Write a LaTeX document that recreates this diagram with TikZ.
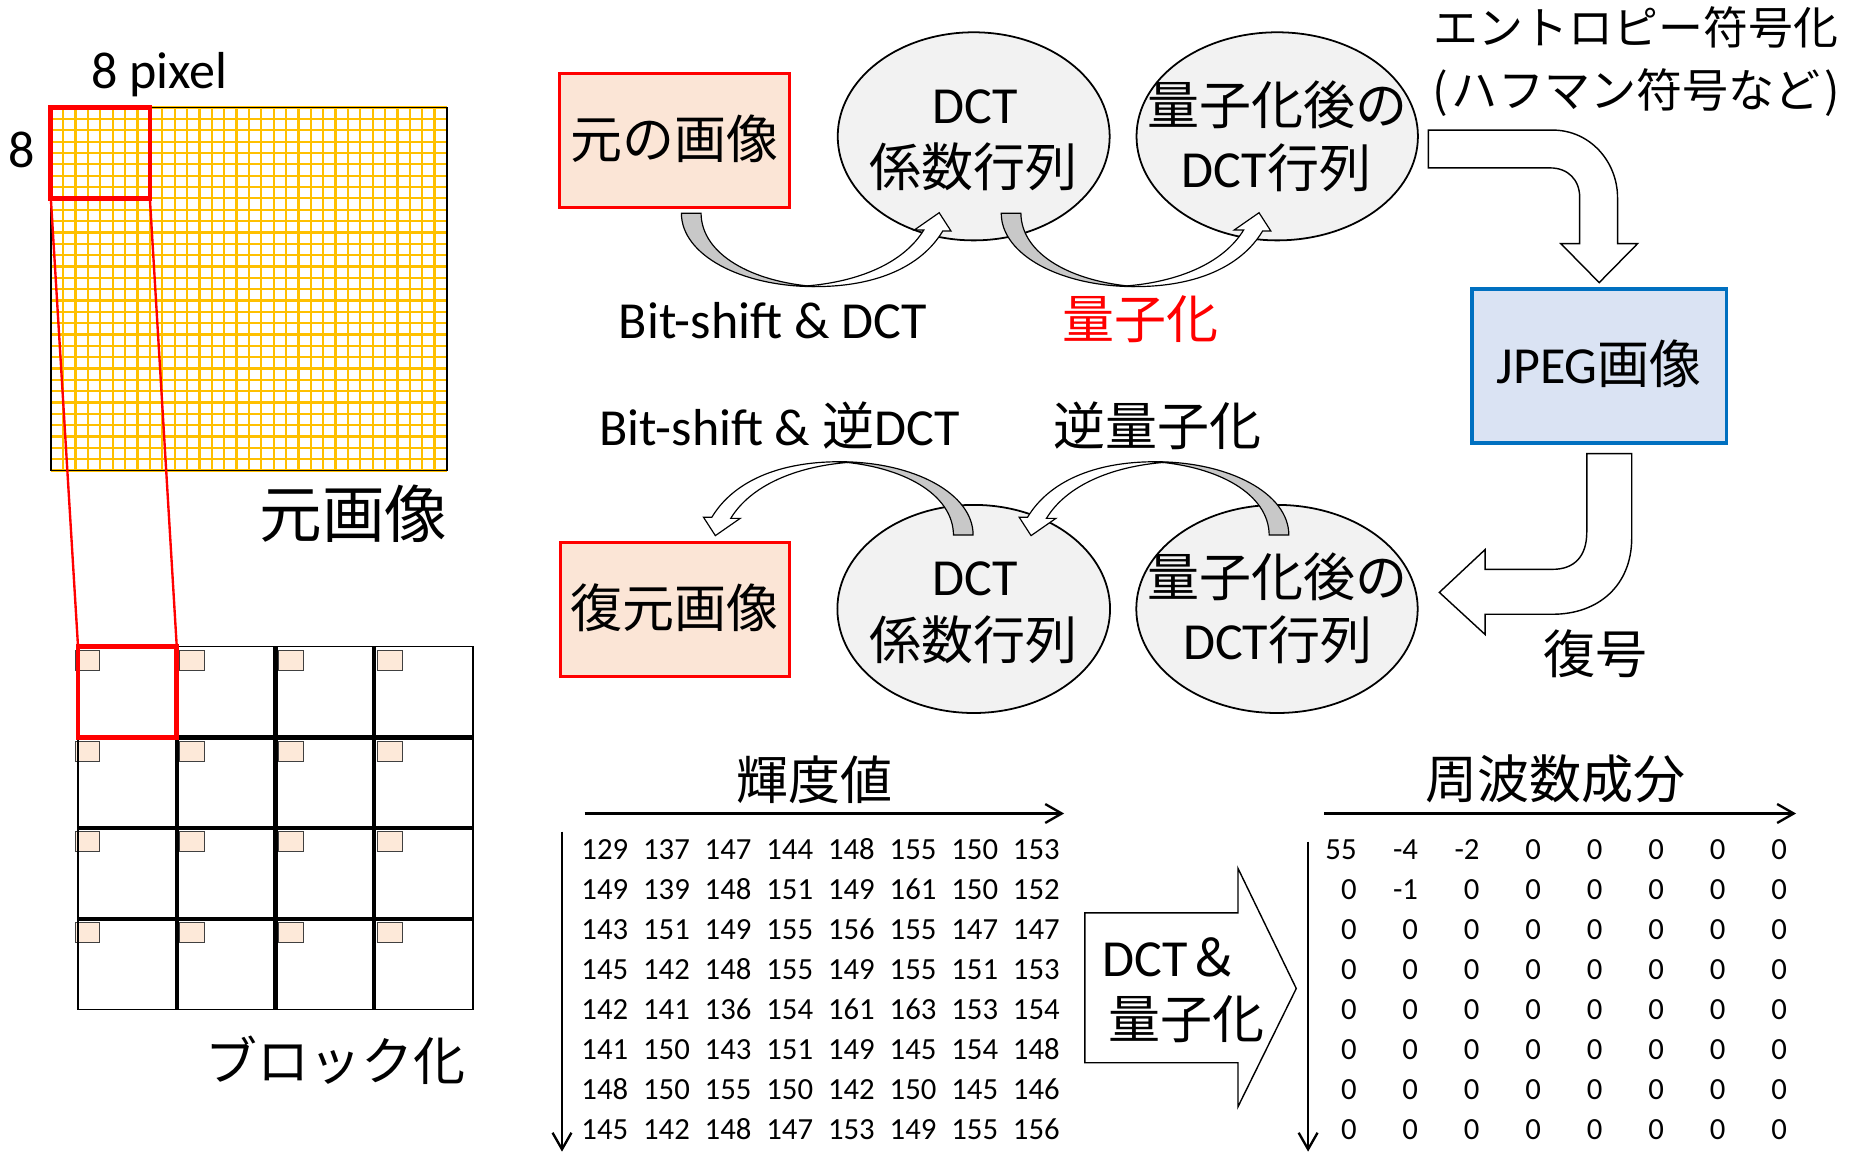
\documentclass[tikz,border=0pt]{standalone}
\usepackage{fontspec}
\setmainfont{Carlito}
\newfontfamily\jp{Noto Sans CJK JP}
\usetikzlibrary{shapes.geometric,arrows.meta}
\definecolor{peach}{HTML}{FBE5D6}
\definecolor{lblue}{HTML}{DAE3F3}
\definecolor{dblue}{HTML}{0070C0}
\definecolor{egray}{HTML}{F2F2F2}
\definecolor{agray}{HTML}{C8C8C8}
\definecolor{gridor}{HTML}{FFC000}
\definecolor{sqpeach}{HTML}{FDE9D9}
\tikzset{
  L44/.style={font=\fontsize{44}{52}\selectfont, inner sep=0pt, text height=37pt, text depth=7pt},
  J44/.style={font=\jp\fontsize{44}{52}\selectfont, inner sep=0pt, text height=37pt, text depth=7pt},
  J38/.style={font=\jp\fontsize{38}{46}\selectfont, inner sep=0pt, text height=32pt, text depth=6pt},
  J53/.style={font=\jp\fontsize{53}{62}\selectfont, inner sep=0pt, text height=44pt, text depth=8pt},
  N26/.style={font=\fontsize{26}{30}\selectfont, inner sep=0pt, text height=20pt, text depth=4pt},
  imgbox/.style={J44, draw=red, line width=2.5pt, fill=peach, minimum width=194pt, minimum height=113pt},
  jpgbox/.style={L44, draw=dblue, line width=3pt, fill=lblue, minimum width=215pt, minimum height=130pt},
  ell/.style={ellipse, draw, line width=1.5pt, fill=egray, inner sep=0pt, minimum height=176pt},
  redbox/.style={draw=red, line width=4pt, inner sep=0pt, outer sep=0pt, anchor=north west, minimum width=83.75pt, minimum height=76.75pt},
  blockarrow/.style={draw, line width=1.2pt, fill=white, line join=miter},
  axisarrow/.style={line width=2pt, -{Straight Barb[length=14pt,width=16pt]}},
  curvarr/.pic={
    \draw[line width=1pt, fill=agray] (0,0) .. controls (0,35) and (50,62) .. (113,62)
       .. controls (60,58) and (17,35) .. (16.6,0) -- cycle;
    \draw[line width=1pt, fill=white] (113,62) .. controls (165,62) and (203,45) .. (221,15)
       -- (228,15) -- (218,-0.5) -- (197,14.1) -- (205,14.1)
       .. controls (188,42) and (150,58) .. (105,61.5) -- cycle;
  }
}
\begin{document}
\begin{tikzpicture}[x=1pt,y=-1pt]
\useasboundingbox (0,0) rectangle (1568,975);

% ---------- original image grid ----------
\foreach \k in {0,...,32} {
  \draw[gridor, line width=1.9pt] ({43+\k*335/32},91) -- ({43+\k*335/32},398);
  \draw[gridor, line width=1.9pt] (43,{91+\k*307/32}) -- (378,{91+\k*307/32});
}
\node[draw, line width=1.2pt, inner sep=0pt, outer sep=0pt, anchor=north west,
      minimum width=335pt, minimum height=307pt] (bigimg) at (43,91) {};
\node[redbox] (blkA) at (43,91) {};
\node[L44] (px) at (135,59.7) {8 pixel};
\node[L44] (eight) at (18.3,126.9) {8};
\node[J53] (motoimg) at (299,436.5) {元画像};

% ---------- blocks ----------
\foreach \xx in {63.5,152,235.5,319} {
  \foreach \yy in {550,627,703.5,780} {
    \draw[fill=sqpeach, line width=0.8pt, draw=black!75] (\xx,\yy) rectangle ++(21,17);
  }
}
\node[draw, line width=1.2pt, inner sep=0pt, outer sep=0pt, anchor=north west,
      minimum width=334pt, minimum height=307pt] (blocks) at (66,547) {};
\foreach \k in {1,2,3} {
  \draw[line width=3.5pt] ({66+\k*83.5},547) -- ({66+\k*83.5},854);
  \draw[line width=3.5pt] (66,{547+\k*76.75}) -- (400,{547+\k*76.75});
}
\node[redbox, minimum width=83.5pt] (blkB) at (66,547) {};
\draw[red, line width=2pt] (blkA.south west) -- (blkB.north west);
\draw[red, line width=2pt] (blkA.south east) -- (blkB.north east);
\node[J44] (blockize) at (284,899) {ブロック化};

% ---------- encoder row ----------
\node[imgbox] (orig) at (570.5,118.7) {元の画像};
\node[ell, minimum width=230pt] (e1) at (823.5,115.3) {};
\node[ell, minimum width=238pt] (e2) at (1080.2,115.3) {};
\node[L44] (e1a) at (824.5,89.5) {DCT};
\node[J44] (e1b) at (823.3,143) {係数行列};
\node[J44] (e2a) at (1080.8,90.2) {量子化後の};
\node[L44] (e2b) at (1079.6,143.8) {DCT{\jp 行列}};
\pic at (576.3,180.4) {curvarr};
\pic at (846.8,180.4) {curvarr};
\node[L44] (lbl1) at (653.6,271) {Bit-shift \& DCT};
\node[J44, text=red] (lbl2) at (964.6,271.3) {量子化};

% entropy coding arrow
\draw[blockarrow] (1208,110) -- (1313,110) .. controls (1345,110) and (1368,137) .. (1368,167)
  -- (1368,206) -- (1385,206) -- (1352.5,239) -- (1320,206) -- (1336,206) -- (1336,167)
  .. controls (1336,152) and (1326,142) .. (1311,142) -- (1208,142) -- cycle;
\node[J38] (lbl5) at (1383.6,25) {エントロピー符号化};
\node[J38, font=\jp\fontsize{39}{46}\selectfont] (lbl6) at (1384,77.7)
  {(\kern3pt ハフマン符号など\kern3pt)};
\node[jpgbox] (jpeg) at (1352.5,309.6) {JPEG{\jp 画像}};

% decoding arrow
\draw[blockarrow] (1342,383.6) -- (1380,383.6) -- (1380,455)
  .. controls (1380,495) and (1352,519.5) .. (1313,519.5) -- (1256,519.5) -- (1256,536.6)
  -- (1217.3,501) -- (1256,464.8) -- (1256,481.5) -- (1313,481.5)
  .. controls (1332,481.5) and (1342,470) .. (1342,450) -- cycle;
\node[J44] (lbl7) at (1349,554.3) {復号};

% ---------- decoder row ----------
\node[imgbox] (rest) at (570.8,515.4) {復元画像};
\node[ell, minimum width=230.6pt] (e3) at (823.5,515) {};
\node[ell, minimum width=238pt] (e4) at (1080,515) {};
\node[L44] (e3a) at (824.5,488.4) {DCT};
\node[J44] (e3b) at (823.2,542.7) {係数行列};
\node[J44] (e4a) at (1080.5,489.1) {量子化後の};
\node[L44] (e4b) at (1080.6,542.7) {DCT{\jp 行列}};
\pic[rotate=180] at (823,452.5) {curvarr};
\pic[rotate=180] at (1090,452.5) {curvarr};
\node[L44] (lbl3) at (659.4,362) {Bit-shift \& {\jp 逆}DCT};
\node[J44] (lbl4) at (978.6,362) {逆量子化};

% ---------- tables ----------
\node[J44] (lbl8) at (688.5,661) {輝度値};
\coordinate (hL0) at (494.5,688);
\coordinate (hL1) at (900,688);
\coordinate (vL0) at (475.3,703.4);
\coordinate (vL1) at (475.3,974);
\draw[axisarrow] (hL0) -- (hL1);
\draw[axisarrow] (vL0) -- (vL1);
\foreach \row [count=\i from 0] in {
  {129,137,147,144,148,155,150,153},
  {149,139,148,151,149,161,150,152},
  {143,151,149,155,156,155,147,147},
  {145,142,148,155,149,155,151,153},
  {142,141,136,154,161,163,153,154},
  {141,150,143,151,149,145,154,148},
  {148,150,155,150,142,150,145,146},
  {145,142,148,147,153,149,155,156}} {
  \foreach \v [count=\j from 0] in \row {
    \node[N26] (L\i-\j) at ({511.5+52.14*\j},{718.9+33.83*\i}) {\v};
  }
}

\draw[blockarrow] (917.5,772) -- (1047,772) -- (1047,734.4) -- (1096.3,836) -- (1047,936)
  -- (1047,898.8) -- (917.5,898.8) -- cycle;
\node[L44, anchor=west] (lbl10) at (932,810.5) {DCT{\jp ＆}};
\node[J44, anchor=west] (lbl11) at (937,863.4) {量子化};

\node[J44] (lbl9) at (1315.4,660.4) {周波数成分};
\coordinate (hR0) at (1120,688);
\coordinate (hR1) at (1519,688);
\coordinate (vR0) at (1106.3,711.8);
\coordinate (vR1) at (1106.3,974);
\draw[axisarrow] (hR0) -- (hR1);
\draw[axisarrow] (vR0) -- (vR1);
\foreach \row [count=\i from 0] in {
  {55,-4,-2,0,0,0,0,0},
  {0,-1,0,0,0,0,0,0},
  {0,0,0,0,0,0,0,0},
  {0,0,0,0,0,0,0,0},
  {0,0,0,0,0,0,0,0},
  {0,0,0,0,0,0,0,0},
  {0,0,0,0,0,0,0,0},
  {0,0,0,0,0,0,0,0}} {
  \foreach \v [count=\j from 0] in \row {
    \node[N26, anchor=east] (R\i-\j) at ({1147.5+52*\j},{718.9+33.83*\i}) {\v};
  }
}
\end{tikzpicture}
\end{document}
